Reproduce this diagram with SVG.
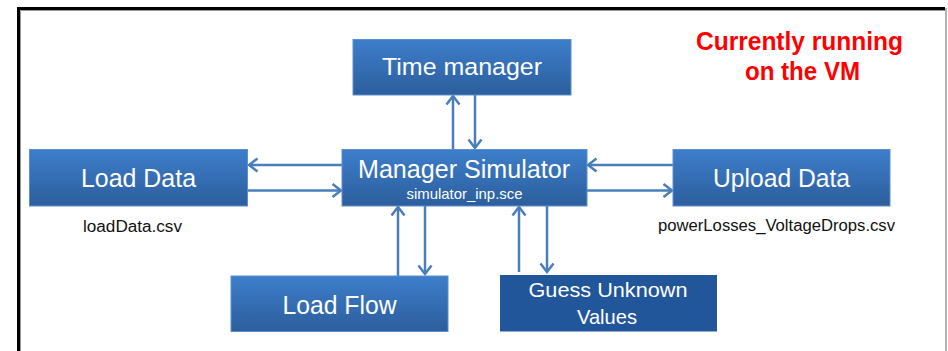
<svg xmlns="http://www.w3.org/2000/svg" width="948" height="351" viewBox="0 0 948 351">
<style>
.box{fill:url(#g);stroke:#5d8fcf;stroke-width:1}
.dark{fill:#21569a;stroke:#21569a;stroke-width:1}
.t{font-family:"Liberation Sans",Arial,sans-serif;fill:#ffffff;text-anchor:middle}
.cap{font-family:"Liberation Sans",Arial,sans-serif;fill:#111111;text-anchor:middle;font-size:16px}
.red{font-family:"Liberation Sans",Arial,sans-serif;fill:#ff0000;font-weight:bold;font-size:25px;text-anchor:middle}
.c{stroke:#4a7ebb;stroke-width:2.5;fill:none;marker-end:url(#a)}
</style>
<defs>
<linearGradient id="g" x1="0" y1="0" x2="0" y2="1">
<stop offset="0" stop-color="#3d7ecb"/>
<stop offset="1" stop-color="#2c5e9c"/>
</linearGradient>
<marker id="a" markerUnits="userSpaceOnUse" markerWidth="14" markerHeight="16" viewBox="-11 -8 13 16" refX="0" refY="0" orient="auto">
<path d="M-8.5,-6.5 L0,0 L-8.5,6.5" fill="none" stroke="#4a7ebb" stroke-width="2.5"/>
</marker>
</defs>
<rect x="0" y="0" width="948" height="351" fill="#ffffff"/>
<g id="frame">
<path d="M18.5,351 V8.5 H945" fill="none" stroke="#000000" stroke-width="3"/>
<path d="M20.5,351 V10.5 H945" fill="none" stroke="#9a9a9a" stroke-width="1"/>
<path d="M946,8 V351" fill="none" stroke="#9a9a9a" stroke-width="1.5"/>
</g>
<g id="connectors">
<line class="c" x1="453" y1="149" x2="453" y2="96"/>
<line class="c" x1="475" y1="95" x2="475" y2="148"/>
<line class="c" x1="342" y1="165" x2="249" y2="165"/>
<line class="c" x1="248" y1="190.5" x2="341" y2="190.5"/>
<line class="c" x1="673" y1="165" x2="588" y2="165"/>
<line class="c" x1="587" y1="190.5" x2="672" y2="190.5"/>
<line class="c" x1="398" y1="276" x2="398" y2="207"/>
<line class="c" x1="425" y1="206" x2="425" y2="274"/>
<line class="c" x1="519" y1="272" x2="519" y2="207"/>
<line class="c" x1="547" y1="206" x2="547" y2="272"/>
</g>
<g id="time-manager">
<rect class="box" x="353" y="39.5" width="218" height="55.5"/>
<text class="t" x="462" y="75" font-size="24.5" textLength="160" lengthAdjust="spacingAndGlyphs">Time manager</text>
</g>
<g id="load-data">
<rect class="box" x="29.5" y="149.5" width="218" height="56.5"/>
<text class="t" x="138.5" y="187" font-size="25" textLength="115" lengthAdjust="spacingAndGlyphs">Load Data</text>
<text class="cap" x="132.5" y="232" textLength="99" lengthAdjust="spacingAndGlyphs">loadData.csv</text>
</g>
<g id="manager-simulator">
<rect class="box" x="342" y="149.5" width="245" height="56.5"/>
<text class="t" x="464" y="178" font-size="25" textLength="212" lengthAdjust="spacingAndGlyphs">Manager Simulator</text>
<text class="t" x="464.5" y="198.5" font-size="15" textLength="116" lengthAdjust="spacingAndGlyphs">simulator_inp.sce</text>
</g>
<g id="upload-data">
<rect class="box" x="673" y="149.5" width="217" height="56.5"/>
<text class="t" x="781.5" y="187" font-size="25" textLength="137" lengthAdjust="spacingAndGlyphs">Upload Data</text>
<text class="cap" x="776.5" y="231" textLength="237" lengthAdjust="spacingAndGlyphs">powerLosses_VoltageDrops.csv</text>
</g>
<g id="load-flow">
<rect class="box" x="231" y="276" width="217" height="55.5"/>
<text class="t" x="339.5" y="313.5" font-size="25" textLength="114" lengthAdjust="spacingAndGlyphs">Load Flow</text>
</g>
<g id="guess-unknown">
<rect class="dark" x="500.5" y="275.5" width="216" height="55.5"/>
<text class="t" x="608" y="297" font-size="21" textLength="159" lengthAdjust="spacingAndGlyphs">Guess Unknown</text>
<text class="t" x="607" y="323.5" font-size="21" textLength="60" lengthAdjust="spacingAndGlyphs">Values</text>
</g>
<g id="note">
<text class="red" x="799.5" y="50" textLength="207" lengthAdjust="spacingAndGlyphs">Currently running</text>
<text class="red" x="802.5" y="79.5" textLength="115" lengthAdjust="spacingAndGlyphs">on the VM</text>
</g>
</svg>
